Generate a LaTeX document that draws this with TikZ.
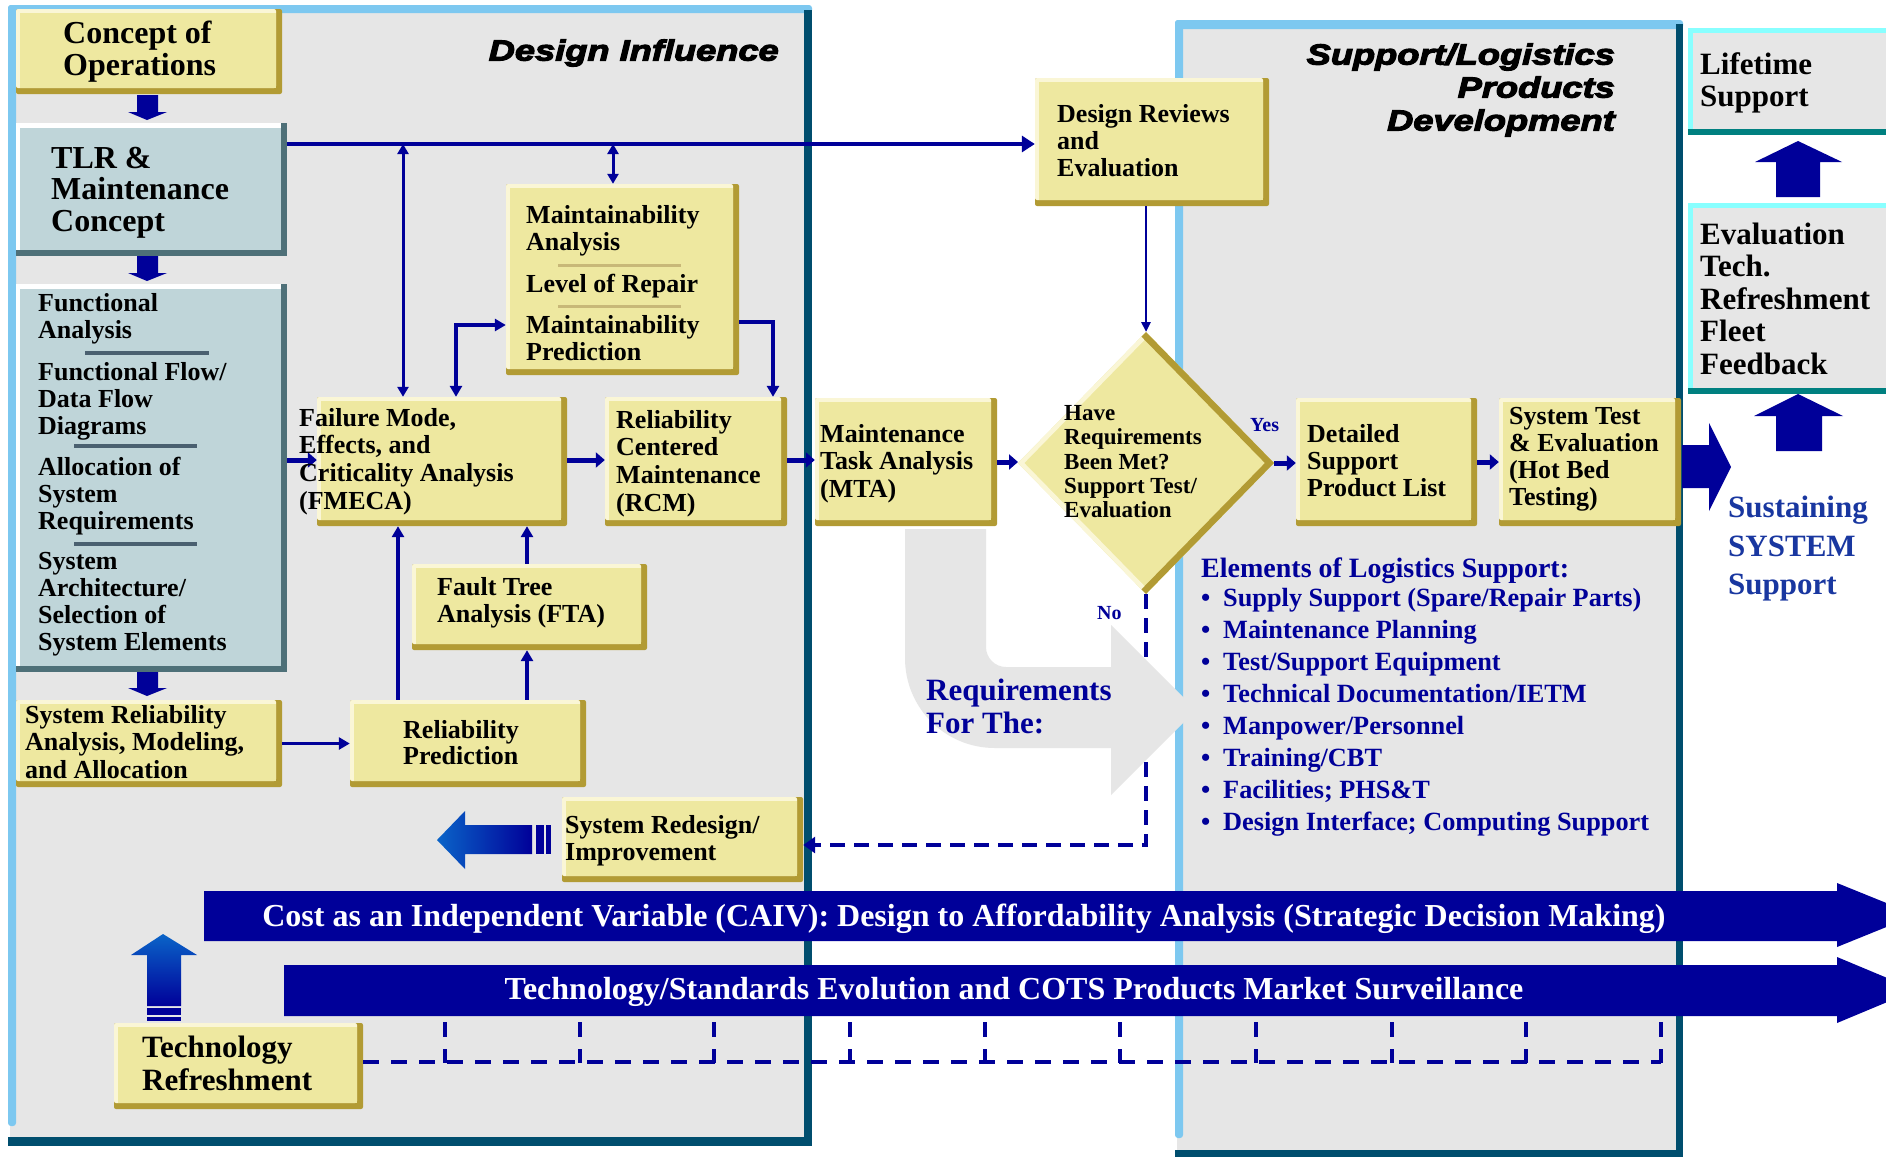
\documentclass[tikz,border=0pt]{standalone}
\usepackage{fontspec}
\setmainfont{Liberation Serif}
\newfontfamily\titlefont{Liberation Sans}[FakeStretch=1.25, BoldItalicFeatures={FakeBold=4}]
\usetikzlibrary{arrows.meta,fit,shapes.geometric}

\definecolor{dnavy}{RGB}{0,0,153}
\definecolor{yfill}{RGB}{238,232,160}
\definecolor{ylight}{RGB}{250,246,214}
\definecolor{ygold}{RGB}{178,155,52}
\definecolor{panelgray}{RGB}{230,230,230}
\definecolor{skyline}{RGB}{125,200,240}
\definecolor{darkteal}{RGB}{0,78,110}
\definecolor{tlrfill}{RGB}{191,213,217}
\definecolor{tlrshade}{RGB}{78,112,120}
\definecolor{sepslate}{RGB}{74,96,112}
\definecolor{septan}{RGB}{200,184,120}
\definecolor{cyanedge}{RGB}{136,255,255}
\definecolor{tealedge}{RGB}{0,128,128}
\definecolor{royal}{RGB}{25,55,160}
\definecolor{gradlight}{RGB}{10,100,200}

\newcommand\fsz[2]{\fontsize{#1}{#2}\selectfont}
\newcommand\bul{\makebox[22pt][l]{•}}

% yellow raised box: name, top-left x,y, bottom-right x,y
\newcommand\ybox[5]{%
  \fill[ygold, rounded corners=2pt] (#2,#3) rectangle (#4,#5);
  \fill[ylight, rounded corners=2pt] (#2,#3) rectangle (#4-6,#5-6);
  \fill[yfill] (#2+4,#3+4) rectangle (#4-6,#5-6);
  \node[fit={(#2,#3) (#4,#5)}, inner sep=0pt] (#1) {};
}
% blue-grey raised box
\newcommand\tbox[5]{%
  \fill[tlrshade] (#2,#3) rectangle (#4,#5);
  \fill[white] (#2,#3) rectangle (#4-6,#5-6);
  \fill[tlrfill] (#2+4,#3+5) rectangle (#4-6,#5-6);
  \node[fit={(#2,#3) (#4,#5)}, inner sep=0pt] (#1) {};
}
% grey box with cyan/teal edges at the right margin
\newcommand\cbox[5]{%
  \fill[panelgray] (#2,#3) rectangle (#4,#5);
  \fill[cyanedge] (#2,#3) rectangle (#4,#3+5);
  \fill[cyanedge] (#2,#3) rectangle (#2+5,#5-3);
  \fill[tealedge] (#2,#5-6) rectangle (#4,#5);
  \node[fit={(#2,#3) (#4,#5)}, inner sep=0pt] (#1) {};
}

\begin{document}
\begin{tikzpicture}[x=1pt,y=-1pt,
  txt/.style={inner sep=0pt, anchor=north west, align=left, font=\bfseries\fsz{26}{27}},
  conn/.style={draw=dnavy, line width=3.5pt, -{Triangle[length=11pt,width=12pt]}},
  twoway/.style={draw=dnavy, line width=3pt, {Triangle[length=10pt,width=11pt]}-{Triangle[length=10pt,width=11pt]}},
  stub/.style={draw=dnavy, line width=5pt, -{Triangle[length=9pt,width=15pt]}},
  dashlink/.style={draw=dnavy, line width=4pt, dash pattern=on 15pt off 9pt, -{Triangle[length=12pt,width=16pt]}},
  tickline/.style={draw=dnavy, line width=3.5pt, dash pattern=on 15pt off 12pt},
  hdash/.style={draw=dnavy, line width=4pt, dash pattern=on 16pt off 12pt},
  sep/.style={line width=3.5pt}]

\useasboundingbox (0,0) rectangle (1886,1157);
\fill[white] (0,0) rectangle (1886,1157);

% ---- Design Influence panel
\fill[panelgray] (10,8) rectangle (806,1140);
\fill[skyline, rounded corners=3pt] (8,5) rectangle (812,13);
\fill[skyline, rounded corners=3pt] (8,5) rectangle (16,1126);
\fill[darkteal] (804,10) rectangle (812,1146);
\fill[darkteal] (8,1137) rectangle (812,1146);

% ---- Support/Logistics panel
\fill[panelgray] (1177,22) rectangle (1680,1153);
\fill[skyline, rounded corners=3pt] (1175,20) rectangle (1683,29);
\fill[skyline, rounded corners=3pt] (1175,20) rectangle (1183,1138);
\fill[darkteal] (1676,24) rectangle (1683,1157);
\fill[darkteal] (1175,1150) rectangle (1683,1157);

% ---- right column
\cbox{life}{1688}{28}{1886}{135}
\cbox{eval}{1688}{203}{1886}{394}
\fill[dnavy] (1776,197) -- (1776,162) -- (1755,162) -- (1798,141) -- (1842,162) -- (1820,162) -- (1820,197) -- cycle;
\fill[dnavy] (1776,451) -- (1776,416) -- (1754,416) -- (1798,394) -- (1843,416) -- (1822,416) -- (1822,451) -- cycle;

% ---- boxes
\ybox{conops}{16}{9}{282}{94}
\tbox{tlr}{16}{123}{287}{256}
\tbox{func}{16}{284}{287}{672}
\ybox{sysrel}{16}{700}{282}{787}
\ybox{relpred}{350}{700}{586}{787}
\ybox{fta}{412}{564}{647}{650}
\ybox{fmeca}{317}{397}{567}{526}
\ybox{rcm}{605}{397}{787}{526}
\ybox{maint}{506}{184}{739}{375}
\ybox{mta}{815}{398}{997}{526}
\ybox{dspl}{1296}{398}{1477}{526}
\ybox{ste}{1499}{398}{1681}{526}
\ybox{dr}{1035}{78}{1269}{206}
\ybox{redesign}{562}{797}{803}{882}
\ybox{techref}{114}{1023}{363}{1109}

% decision diamond
\node[diamond, minimum width=256pt, minimum height=262pt, inner sep=0pt, outer sep=0pt] (dia) at (1146,463) {};
\fill[yfill] (dia.north) -- (dia.east) -- (dia.south) -- (dia.west) -- cycle;
\begin{scope}
  \clip (dia.north) -- (dia.east) -- (dia.south) -- (dia.west) -- cycle;
  \draw[ylight, line width=9pt] (dia.south) -- (dia.west) -- (dia.north);
  \draw[ygold, line width=13pt] (dia.north) -- (dia.east) -- (dia.south);
\end{scope}

% separators inside boxes
\draw[sepslate, sep] (85,353) -- (209,353);
\draw[sepslate, sep] (74,446) -- (197,446);
\draw[sepslate, sep] (74,544) -- (197,544);
\draw[septan, line width=3pt] (558,265) -- (681,265);
\draw[septan, line width=3pt] (558,306) -- (681,306);

% block arrows down the left column
\fill[dnavy] (137,95) -- (158,95) -- (158,112) -- (167,112) -- (147,120) -- (128,112) -- (137,112) -- cycle;
\fill[dnavy] (137,256) -- (158,256) -- (158,273) -- (167,273) -- (147,281) -- (128,273) -- (137,273) -- cycle;
\fill[dnavy] (137,672) -- (158,672) -- (158,688) -- (167,688) -- (147,696) -- (128,688) -- (137,688) -- cycle;

% ---- connectors
\coordinate (ytop) at (0,144);
\coordinate (xb) at (403,0);
\coordinate (xc) at (613,0);
\coordinate (xd) at (456,0);
\coordinate (yd) at (0,325);
\coordinate (ye) at (0,322);
\coordinate (xe) at (773,0);
\coordinate (yf) at (0,460);
\coordinate (xm) at (398,0);
\coordinate (xn) at (527,0);
\coordinate (yq) at (0,845);

\draw[dnavy, line width=4pt, -{Triangle[length=13pt,width=16pt]}] (tlr.east |- ytop) -- (dr.west |- ytop);
\draw[twoway] (xb |- ytop) -- (xb |- fmeca.north);
\draw[twoway] (xc |- ytop) -- (xc |- maint.north);
\draw[conn, {Triangle[length=11pt,width=12pt]}-{Triangle[length=11pt,width=12pt]}] (xd |- fmeca.north) |- (maint.west |- yd);
\draw[conn] (maint.east |- ye) -| (xe |- rcm.north);
\draw[stub] (func.east |- yf) -- (fmeca.west |- yf);
\draw[stub] (fmeca.east |- yf) -- (rcm.west |- yf);
\draw[stub] (rcm.east |- yf) -- (mta.west |- yf);
\draw[stub] (mta.east) -- (mta.east -| dia.west);
\draw[stub] (dia.east) -- (dia.east -| dspl.west);
\draw[stub] (dspl.east) -- (ste.west);
\draw[conn] (sysrel.east) -- (relpred.west);
\draw[conn] (xm |- relpred.north) -- (xm |- fmeca.south);
\draw[conn] (xn |- relpred.north) -- (xn |- fta.south);
\draw[conn] (xn |- fta.north) -- (xn |- fmeca.south);
\draw[dnavy, line width=2.5pt, -{Triangle[length=10pt,width=9pt]}] (dia.north |- dr.south) -- (dia.north);
\draw[dashlink] (dia.south) -- (dia.south |- yq) -- (redesign.east |- yq);

% broad grey bent arrow behind the requirements label
\fill[panelgray] (905,529) -- (986,529) -- (986,647)
  .. controls (986,658) and (995,667) .. (1006,667)
  -- (1111,667) -- (1111,625) -- (1196,710) -- (1111,795) -- (1111,748) -- (995,748)
  .. controls (945,748) and (905,708) .. (905,658) -- cycle;

% outgoing arrow to sustaining support
\fill[dnavy] (1682,445) -- (1709,445) -- (1709,423) -- (1731,467) -- (1709,511) -- (1709,488) -- (1682,488) -- cycle;

% shaded arrows
\shade[left color=gradlight, right color=dnavy] (437,840) -- (465,811) -- (465,825) -- (532,825) -- (532,854) -- (465,854) -- (465,869) -- cycle;
\fill[dnavy] (536,825) rectangle (544,854);
\fill[dnavy] (546,825) rectangle (551,854);
\shade[top color=gradlight, bottom color=dnavy] (163,934) -- (197,955) -- (181,955) -- (181,1006) -- (147,1006) -- (147,955) -- (131,955) -- cycle;
\fill[dnavy] (147,1008) rectangle (181,1015);
\fill[dnavy] (147,1017) rectangle (181,1021);

% ---- long bars
\fill[dnavy] (204,891) -- (1837,891) -- (1837,883) -- (1916,915) -- (1837,947) -- (1837,941) -- (204,941) -- cycle;
\fill[dnavy] (284,965) -- (1837,965) -- (1837,957) -- (1916,990) -- (1837,1023) -- (1837,1016) -- (284,1016) -- cycle;

% surveillance ticks
\foreach \tx in {445,580,714,850,985,1120,1256,1392,1526,1661}
  \draw[tickline] (\tx,1022) -- (\tx,1063);
\coordinate (tickend) at (1661,1062);
\draw[hdash] (techref.east |- tickend) -- (tickend);

% ---- texts
\node[txt, font=\bfseries\fsz{32}{32}] (conops-t) at (63,21) {Concept of\\Operations};
\node[txt, font=\bfseries\fsz{32}{31.5}] (tlr-t) at (51,147) {TLR \&\\Maintenance\\Concept};
\node[txt] (func-t1) at (38,293) {Functional\\Analysis};
\node[txt] (func-t2) at (38,362) {Functional Flow/\\Data Flow\\Diagrams};
\node[txt] (func-t3) at (38,457) {Allocation of\\System\\Requirements};
\node[txt] (func-t4) at (38,552) {System\\Architecture/\\Selection of\\System Elements};
\node[txt, font=\bfseries\fsz{26}{27.5}] (sysrel-t) at (25,705) {System Reliability\\Analysis, Modeling,\\and Allocation};
\node[txt, font=\bfseries\fsz{26}{26}] (relpred-t) at (403,720) {Reliability\\Prediction};
\node[txt] (fta-t) at (437,577) {Fault Tree\\Analysis (FTA)};
\node[txt, font=\bfseries\fsz{26}{27.7}] (fmeca-t) at (299,408) {Failure Mode,\\Effects, and\\Criticality Analysis\\(FMECA)};
\node[txt, font=\bfseries\fsz{26}{27.7}] (rcm-t) at (616,410) {Reliability\\Centered\\Maintenance\\(RCM)};
\node[txt] (maint-t1) at (526,205) {Maintainability\\Analysis};
\node[txt] (maint-t2) at (526,274) {Level of Repair};
\node[txt] (maint-t3) at (526,315) {Maintainability\\Prediction};
\node[txt, font=\bfseries\fsz{26}{27.5}] (mta-t) at (820,424) {Maintenance\\Task Analysis\\(MTA)};
\node[txt, font=\bfseries\fsz{23}{24.2}] (dia-t) at (1064,405.5) {Have\\Requirements\\Been Met?\\Support Test/\\Evaluation};
\node[txt] (dspl-t) at (1307,424) {Detailed\\Support\\Product List};
\node[txt] (ste-t) at (1509,407) {System Test\\\& Evaluation\\(Hot Bed\\Testing)};
\node[txt] (dr-t) at (1057,104) {Design Reviews\\and\\Evaluation};
\node[txt, font=\bfseries\fsz{31}{32}] (life-t) at (1700,52.5) {Lifetime\\Support};
\node[txt, font=\bfseries\fsz{31}{32.5}] (eval-t) at (1700,222.5) {Evaluation\\Tech.\\Refreshment\\Fleet\\Feedback};
\node[txt, text=royal, font=\bfseries\fsz{31}{38.5}] (sustain-t) at (1728,496) {Sustaining\\SYSTEM\\Support};
\node[txt, text=dnavy, font=\bfseries\fsz{28}{28}] (elem-h) at (1201,557.6) {Elements of Logistics Support:};
\node[txt, text=dnavy, font=\bfseries\fsz{26.3}{32}] (elem-l) at (1201,588) {\bul Supply Support (Spare/Repair Parts)\\
  \bul Maintenance Planning\\
  \bul Test/Support Equipment\\
  \bul Technical Documentation/IETM\\
  \bul Manpower/Personnel\\
  \bul Training/CBT\\
  \bul Facilities; PHS\&T\\
  \bul Design Interface; Computing Support};
\node[txt, text=dnavy, font=\bfseries\fsz{31}{33}] (req-t) at (926,678.5) {Requirements\\For The:};
\node[txt, text=dnavy, font=\bfseries\fsz{20}{20}] (yes-t) at (1250,418) {Yes};
\node[txt, text=dnavy, font=\bfseries\fsz{20}{20}] (no-t) at (1097,606) {No};
\node[txt] (redesign-t) at (565,815) {System Redesign/\\Improvement};
\node[txt, font=\bfseries\fsz{31}{33}] (techref-t) at (142,1035.5) {Technology\\Refreshment};
\node[inner sep=0pt, anchor=north east, align=right, font=\titlefont\bfseries\itshape\fsz{29}{33}] (di-t) at (779,39.3) {Design Influence};
\node[inner sep=0pt, anchor=north east, align=right, font=\titlefont\bfseries\itshape\fsz{29}{33}] (sl-t) at (1615,43.3) {Support/Logistics\\Products\\Development};
\node[inner sep=0pt, text=white, font=\bfseries\fsz{32}{32}] (caiv-t) at (964,919) {Cost as an Independent Variable (CAIV): Design to Affordability Analysis (Strategic Decision Making)};
\node[inner sep=0pt, text=white, font=\bfseries\fsz{32}{32}] (cots-t) at (1014,992) {Technology/Standards Evolution and COTS Products Market Surveillance};
\end{tikzpicture}
\end{document}
